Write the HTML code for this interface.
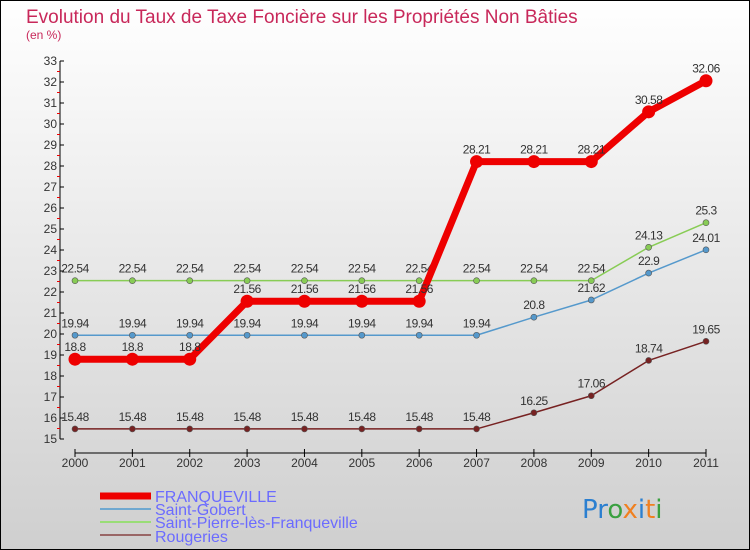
<!DOCTYPE html>
<html><head><meta charset="utf-8"><style>
body{margin:0}
svg{display:block;font-family:"Liberation Sans",sans-serif}
</style></head><body>
<svg id="c" width="750" height="550" xmlns="http://www.w3.org/2000/svg">
<defs><linearGradient id="bg" x1="0" y1="0" x2="0" y2="1"><stop offset="0" stop-color="#ffffff"/><stop offset="1" stop-color="#cfcfcf"/></linearGradient></defs>
<rect x="0.5" y="0.5" width="749" height="549" fill="url(#bg)" stroke="#000"/>
<text x="26" y="23" font-size="19" fill="#c8285a">Evolution du Taux de Taxe Foncière sur les Propriétés Non Bâties</text>
<text x="26" y="39" font-size="12" fill="#c8285a">(en %)</text>
<g id="axes"></g><g id="series"></g>
<g>
<line x1="100" y1="496" x2="151" y2="496" stroke="#ee0000" stroke-width="7"/>
<text x="155" y="502" font-size="16" fill="#6b6bff">FRANQUEVILLE</text>
<line x1="100" y1="509" x2="151" y2="509" stroke="#6fa8d0" stroke-width="2"/>
<text x="155" y="515" font-size="16" fill="#6b6bff">Saint-Gobert</text>
<line x1="100" y1="522" x2="151" y2="522" stroke="#99dd77" stroke-width="2"/>
<text x="155" y="528" font-size="16" fill="#6b6bff">Saint-Pierre-lès-Franqueville</text>
<line x1="100" y1="535" x2="151" y2="535" stroke="#996666" stroke-width="2"/>
<text x="155" y="542" font-size="16" fill="#6b6bff">Rougeries</text>
</g>
<text x="582" y="518" font-size="26" font-family="DejaVu Sans"><tspan fill="#2b7fd0">Pr</tspan><tspan fill="#3aa040">o</tspan><tspan fill="#f08020">x</tspan><tspan fill="#2b7fd0">i</tspan><tspan fill="#f08020">t</tspan><tspan fill="#3aa040">i</tspan></text>
</svg>
<script>
const years=["2000","2001","2002","2003","2004","2005","2006","2007","2008","2009","2010","2011"];
const franqueville=[18.8,18.8,18.8,21.56,21.56,21.56,21.56,28.21,28.21,28.21,30.58,32.06];
const saintGobert=[19.94,19.94,19.94,19.94,19.94,19.94,19.94,19.94,20.8,21.62,22.9,24.01];
const saintPierre=[22.54,22.54,22.54,22.54,22.54,22.54,22.54,22.54,22.54,22.54,24.13,25.3];
const rougeries=[15.48,15.48,15.48,15.48,15.48,15.48,15.48,15.48,16.25,17.06,18.74,19.65];
const yTicks=[15,16,17,18,19,20,21,22,23,24,25,26,27,28,29,30,31,32,33];
const NS="http://www.w3.org/2000/svg";
const x=i=>75+i*(706-75)/(years.length-1);
const y=v=>439-(v-15)*(439-61)/(33-15);
function mk(p,t,a){const e=document.createElementNS(NS,t);for(const k in a)e.setAttribute(k,a[k]);p.appendChild(e);return e;}
const ax=document.getElementById('axes');
let e=mk(ax,'line',{x1:60,y1:y(33),x2:60,y2:y(15),stroke:'#000'});


e=mk(ax,'line',{x1:75,y1:453,x2:706,y2:453,stroke:'#000'});


yTicks.forEach((t,i)=>{
 mk(ax,'line',{x1:60,y1:y(t),x2:64,y2:y(t),stroke:'#000'});
 if(i<yTicks.length-1)mk(ax,'line',{x1:57,y1:y(t+0.5),x2:60,y2:y(t+0.5),stroke:'#e00'});
 const tx=mk(ax,'text',{x:57,y:y(t)+4,'font-size':12,'text-anchor':'end',fill:'#333'});
 tx.textContent=t;
 
 
});
years.forEach((yr,i)=>{
 mk(ax,'line',{x1:x(i),y1:449,x2:x(i),y2:457,stroke:'#000'});
 const tx=mk(ax,'text',{x:x(i),y:467,'font-size':12,'text-anchor':'middle',fill:'#333'});
 tx.textContent=yr;
 
 
});
const sg=document.getElementById('series');
function draw(vals,color,w,r,name){
 const g=mk(sg,'g',{});
 
 
 mk(g,'polyline',{points:vals.map((v,i)=>x(i)+','+y(v)).join(' '),fill:'none',stroke:color,'stroke-width':w,'stroke-linejoin':'round'});
 vals.forEach((v,i)=>{
  const c=mk(g,'circle',{cx:x(i),cy:y(v),r:r,fill:color,stroke:'#555','stroke-width':r>5?0:0.6});
  
  
  const t=mk(g,'text',{x:x(i),y:y(v)-8,'font-size':12,'text-anchor':'middle',fill:'#333','letter-spacing':'-0.5'});
  t.textContent=v;
  
  
 });
}
draw(rougeries,'#772222',1.5,3,'rougeries');
draw(saintPierre,'#88cc55',1.5,3,'saint-pierre');
draw(saintGobert,'#5599cc',1.5,3,'saint-gobert');
draw(franqueville,'#ee0000',7,6.5,'franqueville');
</script>
</body></html>
